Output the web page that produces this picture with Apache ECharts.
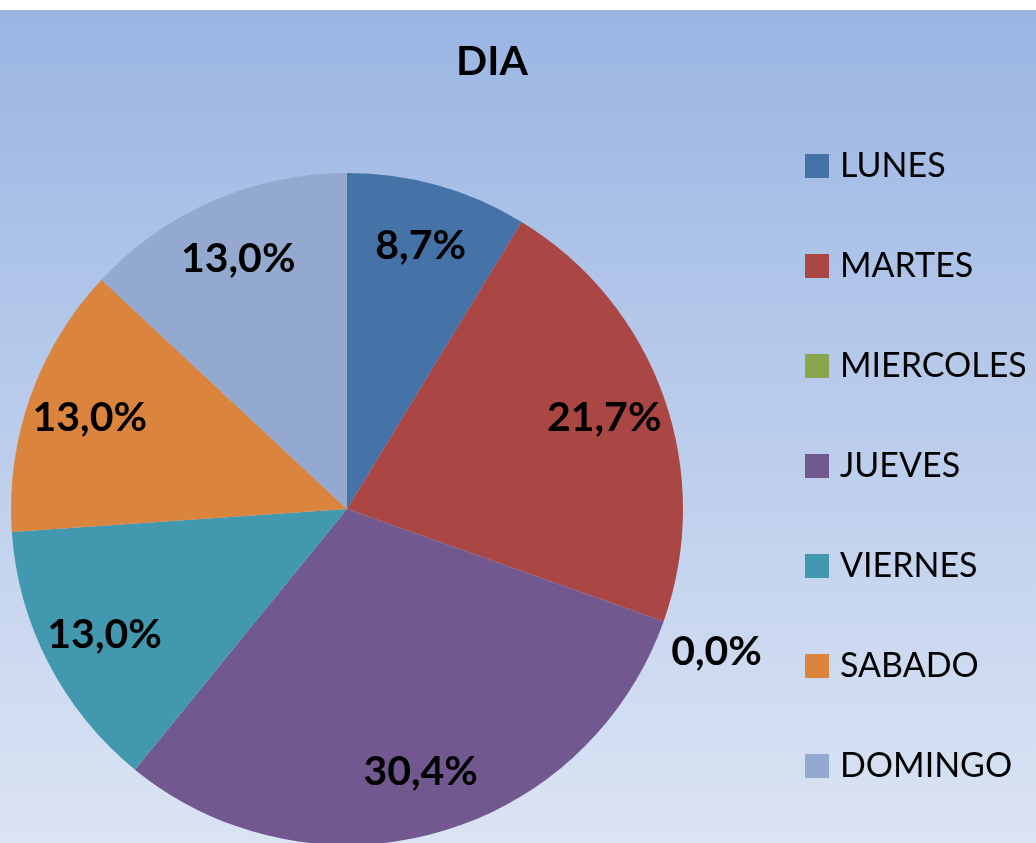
<!DOCTYPE html>
<html>
<head>
<meta charset="utf-8">
<script src="https://cdn.jsdelivr.net/npm/echarts@6/dist/echarts.min.js"></script>
<style>
  html, body { margin: 0; padding: 0; background: #fff; }
  #chart { width: 1036px; height: 843px; }
</style>
</head>
<body>
<div id="chart"></div>
<script>
// datos (conteos por día, se muestran como porcentaje)
var dias = ['LUNES', 'MARTES', 'MIERCOLES', 'JUEVES', 'VIERNES', 'SABADO', 'DOMINGO'];
var conteos = [2, 5, 0, 7, 3, 3, 3];
var colores = ['#4572A7', '#AA4643', '#89A54E', '#71588F', '#4198AF', '#DB843D', '#93A9CF'];

var datos = dias.map(function (d, i) {
    return { name: d, value: conteos[i] };
});

var total = conteos.reduce(function (a, b) { return a + b; }, 0);
function pct(v) {
    return (v / total * 100).toFixed(1).replace('.', ',') + '%';
}

var fuente = 'Lato, "Open Sans", sans-serif';

var myChart = echarts.init(document.getElementById('chart'));
var option = {
    backgroundColor: {
        type: 'linear', x: 0, y: 0, x2: 0, y2: 1,
        colorStops: [
            { offset: 0, color: '#ffffff' },
            { offset: 0.0118, color: '#ffffff' },
            { offset: 0.012, color: '#9AB5E3' },
            { offset: 1, color: '#DBE4F4' }
        ]
    },
    color: colores,
    animation: false,
    title: {
        text: 'DIA',
        left: 487,
        top: 36,
        textAlign: 'center',
        textStyle: { fontFamily: fuente, fontSize: 41, fontWeight: 'bold', color: '#000' }
    },
    legend: {
        orient: 'vertical',
        left: 800,
        top: 144,
        itemWidth: 24,
        itemHeight: 24,
        itemGap: 66,
        icon: 'rect',
        selectedMode: false,
        data: dias,
        textStyle: {
            fontFamily: fuente, fontSize: 34, color: '#000',
            padding: [0, 0, 0, 6]
        }
    },
    series: [
        {
            // tarta visible
            type: 'pie',
            center: [347, 509],
            radius: [0, 336],
            startAngle: 90,
            clockwise: true,
            silent: true,
            data: datos,
            label: { show: false },
            labelLine: { show: false },
            itemStyle: { borderWidth: 0 }
        },
        {
            // capa transparente solo para colocar las etiquetas
            type: 'pie',
            center: [347, 509],
            radius: [204, 336],
            startAngle: 90,
            clockwise: true,
            silent: true,
            minShowLabelAngle: -1,
            avoidLabelOverlap: false,
            data: datos.map(function (d) {
                var item = { name: d.name, value: d.value };
                if (d.value === 0) {
                    item.label = { position: 'outside', distanceToLabelLine: 0 };
                    item.labelLine = { show: false, length: 8, length2: 0 };
                }
                return item;
            }),
            itemStyle: { color: 'rgba(0,0,0,0)', borderWidth: 0 },
            label: {
                show: true,
                position: 'inside',
                formatter: function (p) { return pct(p.value); },
                fontFamily: fuente,
                fontSize: 41,
                fontWeight: 'bold',
                color: '#000'
            },
            labelLine: { show: false },
            labelLayout: function (p) {
                if (p.dataIndex === 2) return { dy: 28 };
                return {};
            }
        }
    ]
};
myChart.setOption(option);
</script>
</body>
</html>
